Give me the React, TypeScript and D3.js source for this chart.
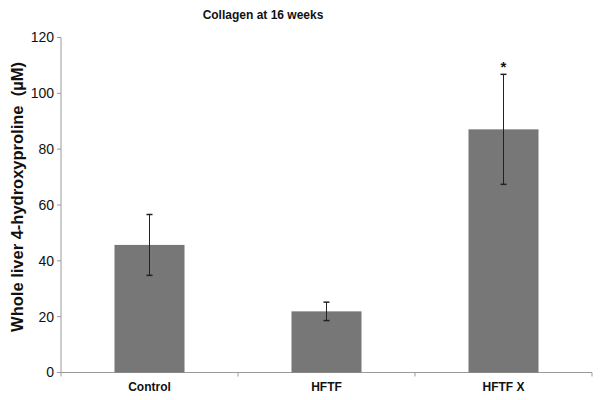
import React from "react";
import * as d3 from "d3";

const categories = ["Control", "HFTF", "HFTF X"];
const values = [45.7, 21.9, 87.1];
const errors = [10.9, 3.3, 19.7];
const significance = ["", "", "*"];
const yTicks = [0, 20, 40, 60, 80, 100, 120];

export default function App() {
  const width = 602;
  const height = 400;
  const x0 = 61, x1 = 592, yTop = 37.5, yBot = 372.5;
  const xb = d3.scaleBand().domain(categories).range([x0, x1]);
  const y = d3.scaleLinear().domain([0, 120]).range([yBot, yTop]);
  const axisColor = "#9a9a9a";
  const font = "Arial, 'Liberation Sans', sans-serif";
  const bw = 70;
  return (
    <svg width={width} height={height} style={{ position: "absolute", left: 0, top: 0, background: "#fff" }} fontFamily={font}>
      <text x={263} y={19} textAnchor="middle" fontSize={12} fontWeight="bold" fill="#111">Collagen at 16 weeks</text>
      {/* y axis */}
      <line x1={x0} x2={x0} y1={y(120)} y2={y(0)} stroke={axisColor} />
      {yTicks.map((t) => (
        <g key={t}>
          <line x1={x0 - 4} x2={x0} y1={y(t)} y2={y(t)} stroke={axisColor} />
          <text x={54} y={y(t)} dy="0.35em" textAnchor="end" fontSize={14} fill="#111">{t}</text>
        </g>
      ))}
      {/* x axis */}
      <line x1={x0} x2={x1} y1={yBot} y2={yBot} stroke={axisColor} />
      {[...categories.map((c) => xb(c)!), x1].map((px, i) => (
        <line key={i} x1={px} x2={px} y1={yBot} y2={yBot + 4} stroke={axisColor} />
      ))}
      {categories.map((c, i) => {
        const cx = xb(c)! + xb.bandwidth() / 2;
        return (
          <g key={c}>
            <rect x={cx - bw / 2} y={y(values[i])} width={bw} height={y(0) - y(values[i])} fill="#777777" />
            <line x1={cx} x2={cx} y1={y(values[i] + errors[i])} y2={y(values[i] - errors[i])} stroke="#222" strokeWidth={1} />
            <line x1={cx - 3} x2={cx + 3} y1={y(values[i] + errors[i])} y2={y(values[i] + errors[i])} stroke="#222" strokeWidth={1.5} />
            <line x1={cx - 3} x2={cx + 3} y1={y(values[i] - errors[i])} y2={y(values[i] - errors[i])} stroke="#222" strokeWidth={1.5} />
            {significance[i] && (
              <text x={cx} y={y(values[i] + errors[i]) - 2} textAnchor="middle" fontSize={15} fontWeight="bold" fill="#111">{significance[i]}</text>
            )}
            <text x={cx} y={391} textAnchor="middle" fontSize={12} fontWeight="bold" fill="#111">{c}</text>
          </g>
        );
      })}
      <text transform={`translate(23,197) rotate(-90)`} textAnchor="middle" fontSize={16.5} fontWeight="bold" fill="#111" style={{ whiteSpace: "pre" }}>
        {"Whole liver 4-hydroxyproline  (µM)"}
      </text>
    </svg>
  );
}
